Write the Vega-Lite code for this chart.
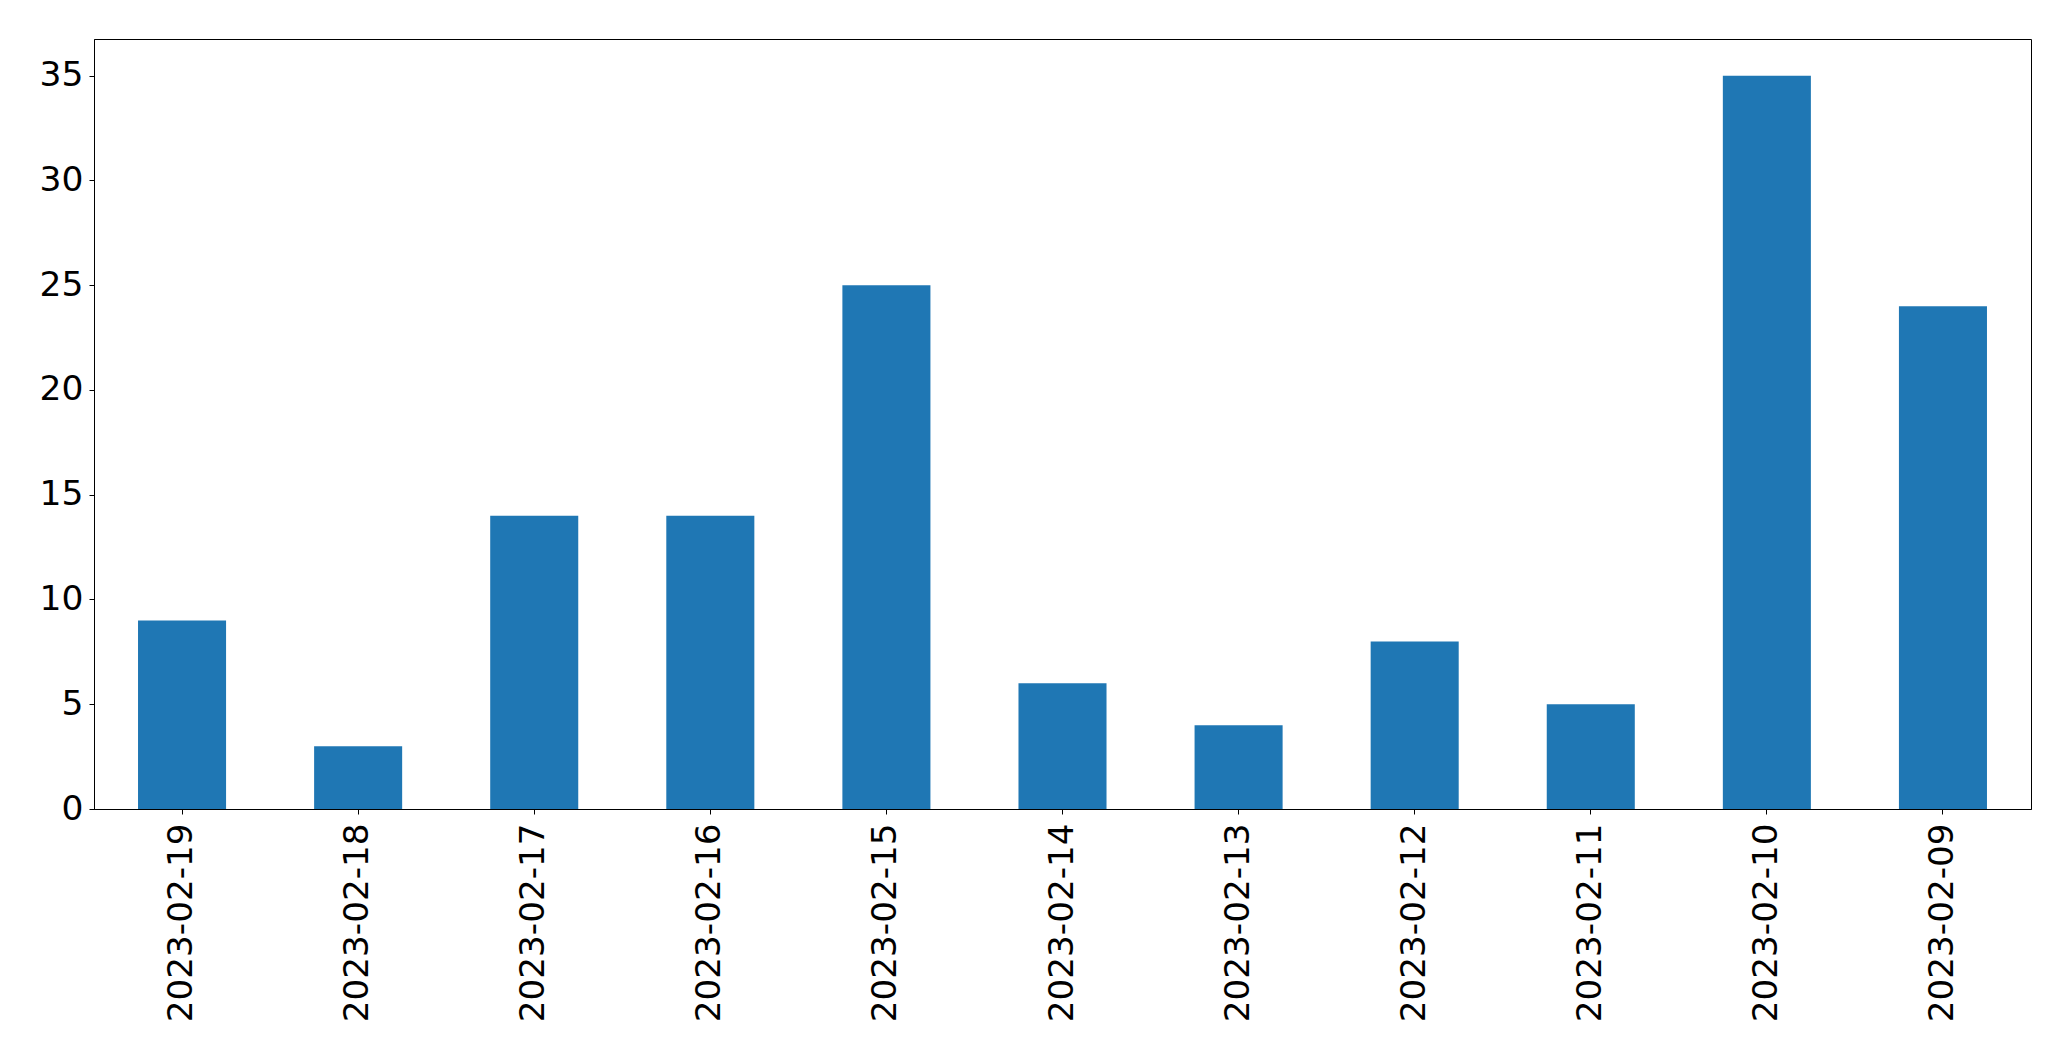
{
  "$schema": "https://vega.github.io/schema/vega-lite/v6.json",
  "autosize": "none",
  "padding": {"left": 94, "top": 39, "right": 40, "bottom": 252},
  "width": 1937,
  "height": 770,
  "background": "white",
  "data": {
    "values": [
      {"date": "2023-02-19", "count": 9},
      {"date": "2023-02-18", "count": 3},
      {"date": "2023-02-17", "count": 14},
      {"date": "2023-02-16", "count": 14},
      {"date": "2023-02-15", "count": 25},
      {"date": "2023-02-14", "count": 6},
      {"date": "2023-02-13", "count": 4},
      {"date": "2023-02-12", "count": 8},
      {"date": "2023-02-11", "count": 5},
      {"date": "2023-02-10", "count": 35},
      {"date": "2023-02-09", "count": 24}
    ]
  },
  "mark": {"type": "bar", "color": "#1f77b4"},
  "encoding": {
    "x": {
      "field": "date",
      "type": "nominal",
      "sort": null,
      "scale": {"paddingInner": 0.5, "paddingOuter": 0.25},
      "axis": {
        "title": null,
        "labelAngle": -90,
        "labelAlign": "right",
        "labelBaseline": "middle",
        "labelFont": "DejaVu Sans",
        "labelFontSize": 34.2,
        "labelColor": "black",
        "labelPadding": 9,
        "labelLimit": 0,
        "labelOverlap": false,
        "tickColor": "black",
        "tickSize": 5,
        "tickWidth": 1,
        "domainColor": "black",
        "domainWidth": 1,
        "grid": false
      }
    },
    "y": {
      "field": "count",
      "type": "quantitative",
      "scale": {"domain": [0, 36.75], "nice": false, "zero": true},
      "axis": {
        "title": null,
        "values": [0, 5, 10, 15, 20, 25, 30, 35],
        "labelFont": "DejaVu Sans",
        "labelFontSize": 34.5,
        "labelColor": "black",
        "labelPadding": 6,
        "tickColor": "black",
        "tickSize": 5,
        "tickWidth": 1,
        "domainColor": "black",
        "domainWidth": 1,
        "grid": false
      }
    }
  },
  "config": {
    "view": {"stroke": "black", "strokeWidth": 1}
  }
}
